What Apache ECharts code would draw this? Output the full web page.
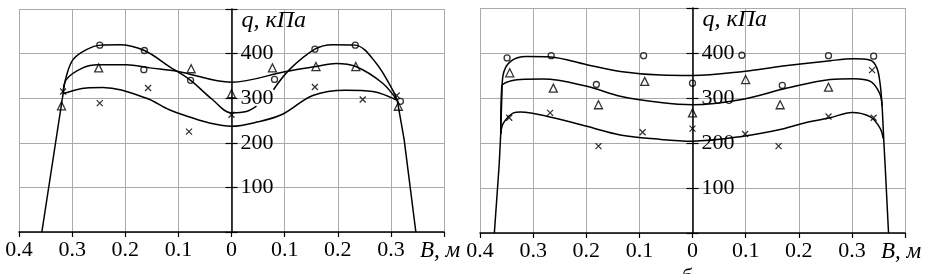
<!DOCTYPE html>
<html>
<head>
<meta charset="utf-8">
<script src="https://cdn.jsdelivr.net/npm/echarts@6/dist/echarts.min.js"></script>
<style>
  html, body { margin: 0; padding: 0; background: #fff; }
  #chart { width: 934px; height: 274px; }
</style>
</head>
<body>
<div id="chart"></div>
<script>
// axis ranges (B, м ; q, кПа)
const xRange = [-0.4, 0.4];
const xStep = 0.1;
const yRange = [0, 500];
const yStep = 100;

// panel а (left): measured points
const aCircles = [[-0.248, 419], [-0.164, 407], [-0.165, 364], [-0.077, 340], [0.081, 342], [0.157, 410], [0.233, 419], [0.318, 293]];
const aTriangles = [[-0.32, 283], [-0.25, 368], [-0.076, 366], [0, 310], [0.077, 368], [0.159, 371], [0.234, 371], [0.314, 282]];
const aCrosses = [[-0.317, 315], [-0.248, 289], [-0.157, 323], [-0.08, 225], [0, 263], [0.157, 325], [0.247, 297], [0.311, 306]];
// panel а: fitted curves
const aCircleLineL = [[-0.317, 310], [-0.311, 349], [-0.298, 387], [-0.273, 409], [-0.246, 419], [-0.211, 420], [-0.164, 407], [-0.117, 371], [-0.077, 340], [-0.036, 297], [0, 267], [0.028, 270], [0.047, 282]];
const aCircleLineR = [[0.079, 319], [0.109, 364], [0.157, 410], [0.19, 420], [0.233, 419], [0.272, 379], [0.303, 319], [0.312, 295]];
const aTriangleLine = [[-0.317, 310], [-0.311, 342], [-0.28, 368], [-0.251, 375], [-0.198, 375], [-0.154, 368], [-0.101, 360], [0, 336], [0.103, 360], [0.159, 371], [0.197, 378], [0.234, 371], [0.284, 334], [0.312, 295]];
const aCrossLine = [[-0.317, 310], [-0.273, 323], [-0.242, 324], [-0.16, 300], [-0.117, 274], [-0.079, 258], [-0.04, 244], [0, 237], [0.05, 247], [0.096, 264], [0.153, 306], [0.215, 318], [0.266, 315], [0.312, 295]];
const aEdgeL = [[-0.357, 0], [-0.317, 310]];
const aEdgeR = [[0.312, 295], [0.325, 207], [0.347, 0]];

// panel б (right): measured points
const bCircles = [[-0.349, 389], [-0.266, 394], [-0.181, 330], [-0.092, 394], [0, 333], [0.093, 395], [0.169, 328], [0.256, 394], [0.341, 393]];
const bTriangles = [[-0.344, 356], [-0.262, 322], [-0.177, 285], [-0.09, 337], [0, 267], [0.1, 341], [0.165, 285], [0.256, 324]];
const bCrosses = [[-0.345, 256], [-0.268, 267], [-0.177, 193], [-0.094, 224], [0, 232], [0.099, 220], [0.162, 193], [0.256, 259], [0.338, 362], [0.341, 256]];
// panel б: fitted curves
const bTopLine = [[-0.361, 220], [-0.359, 300], [-0.357, 348], [-0.343, 381], [-0.312, 392], [-0.268, 391], [-0.199, 374], [-0.136, 359], [-0.06, 351], [0, 350], [0.096, 359], [0.17, 371], [0.26, 383], [0.303, 387], [0.335, 384], [0.347, 367], [0.353, 333], [0.357, 281]];
const bMidLine = [[-0.361, 220], [-0.359, 326], [-0.345, 337], [-0.324, 341], [-0.281, 342], [-0.199, 326], [-0.136, 304], [-0.06, 290], [0, 285], [0.09, 296], [0.178, 322], [0.259, 341], [0.303, 343], [0.335, 337], [0.352, 311], [0.357, 281]];
const bLowLine = [[-0.361, 220], [-0.356, 244], [-0.337, 267], [-0.324, 269], [-0.262, 256], [-0.199, 237], [-0.136, 218], [-0.06, 208], [0, 204], [0.096, 215], [0.165, 230], [0.209, 244], [0.259, 256], [0.3, 268], [0.335, 258], [0.353, 233], [0.359, 210]];
const bEdgeL = [[-0.373, 0], [-0.364, 150], [-0.361, 220]];
const bEdgeR = [[0.357, 281], [0.36, 207], [0.363, 141], [0.369, 0]];

const xName = "B, м";
const yName = "q, кПа";
const panelLabel = "б";

const FONT = '"Liberation Serif", "Times New Roman", serif';
const chart = echarts.init(document.getElementById("chart"));

// grid boxes; the q axis sits in the middle of each (B = 0)
const grids = [
  { left: 19, top: 9, width: 425, height: 223 },
  { left: 480, top: 8, width: 425, height: 225 },
];

const xAxisFor = (gridIndex) => ({
  type: "value",
  gridIndex,
  min: xRange[0],
  max: xRange[1],
  interval: xStep,
  axisLine: { lineStyle: { color: "#000", width: 1.5 } },
  axisTick: { show: true, inside: false, length: 5, lineStyle: { color: "#000", width: 1.2 } },
  splitLine: { show: true, lineStyle: { color: "#aaa", width: 1 } },
  axisLabel: {
    color: "#000",
    fontFamily: FONT,
    fontSize: 22,
    margin: 7,
    showMinLabel: true,
    showMaxLabel: true,
    formatter: (v) => {
      const r = Math.round(v * 10) / 10;
      if (r === xRange[1]) return "{n|" + xName + "}";
      return String(Math.abs(r));
    },
    rich: { n: { fontFamily: FONT, fontStyle: "italic", fontSize: 23, color: "#000", padding: [0, 8, 0, 0] } },
  },
});

const yAxisFor = (gridIndex) => {
  const mid = -grids[gridIndex].width / 2;
  return [
    {
      type: "value",
      gridIndex,
      position: "left",
      offset: mid,
      min: yRange[0],
      max: yRange[1],
      interval: yStep,
      name: yName,
      nameLocation: "end",
      nameGap: -12,
      nameTextStyle: {
        color: "#000",
        fontFamily: FONT,
        fontStyle: "italic",
        fontSize: 24,
        align: "left",
        verticalAlign: "middle",
        padding: [0, 0, 0, 10],
      },
      axisLine: { show: true, onZero: false, lineStyle: { color: "#000", width: 1.5 } },
      axisTick: { show: true, inside: true, length: 6, lineStyle: { color: "#000", width: 1.2 } },
      splitLine: { show: true, lineStyle: { color: "#aaa", width: 1 } },
      axisLabel: {
        inside: true,
        margin: 9,
        color: "#000",
        fontFamily: FONT,
        fontSize: 22,
        formatter: (v) => (v === yRange[0] || v === yRange[1] ? "" : String(v)),
      },
    },
    {
      // short tick marks on the left side of the axis
      type: "value",
      gridIndex,
      position: "left",
      offset: mid,
      min: yRange[0],
      max: yRange[1],
      interval: yStep,
      axisLine: { show: false, onZero: false },
      axisTick: { show: true, inside: false, length: 6, lineStyle: { color: "#000", width: 1.2 } },
      splitLine: { show: false },
      axisLabel: { show: false },
    },
  ];
};

const curve = (data, xIdx, yIdx, smooth) => ({
  type: "line",
  xAxisIndex: xIdx,
  yAxisIndex: yIdx,
  data,
  smooth: smooth ? 0.35 : false,
  symbol: "none",
  lineStyle: { color: "#000", width: 1.5 },
  z: 3,
});

const CROSS = "path://M0,0L10,10M10,0L0,10";
const marks = (data, xIdx, yIdx, symbol, size) => ({
  type: "scatter",
  xAxisIndex: xIdx,
  yAxisIndex: yIdx,
  data,
  symbol,
  symbolSize: size,
  itemStyle: { color: "rgba(0,0,0,0)", borderColor: "#000", borderWidth: 1.3 },
  z: 4,
});

const option = {
  backgroundColor: "#fff",
  animation: false,
  grid: grids,
  xAxis: [xAxisFor(0), xAxisFor(1)],
  yAxis: [...yAxisFor(0), ...yAxisFor(1)],
  series: [
    curve(aEdgeL, 0, 0, false),
    curve(aEdgeR, 0, 0, false),
    curve(aCircleLineL, 0, 0, true),
    curve(aCircleLineR, 0, 0, true),
    curve(aTriangleLine, 0, 0, true),
    curve(aCrossLine, 0, 0, true),
    marks(aCircles, 0, 0, "circle", 6),
    marks(aTriangles, 0, 0, "triangle", 8),
    marks(aCrosses, 0, 0, CROSS, 6),

    curve(bEdgeL, 1, 2, false),
    curve(bEdgeR, 1, 2, false),
    curve(bTopLine, 1, 2, true),
    curve(bMidLine, 1, 2, true),
    curve(bLowLine, 1, 2, true),
    marks(bCircles, 1, 2, "circle", 6),
    marks(bTriangles, 1, 2, "triangle", 8),
    marks(bCrosses, 1, 2, CROSS, 6),
  ],
  graphic: [
    {
      type: "text",
      left: 682,
      top: 266,
      style: { text: panelLabel, font: "22px " + FONT, fill: "#000" },
    },
  ],
};

chart.setOption(option);
</script>
</body>
</html>
